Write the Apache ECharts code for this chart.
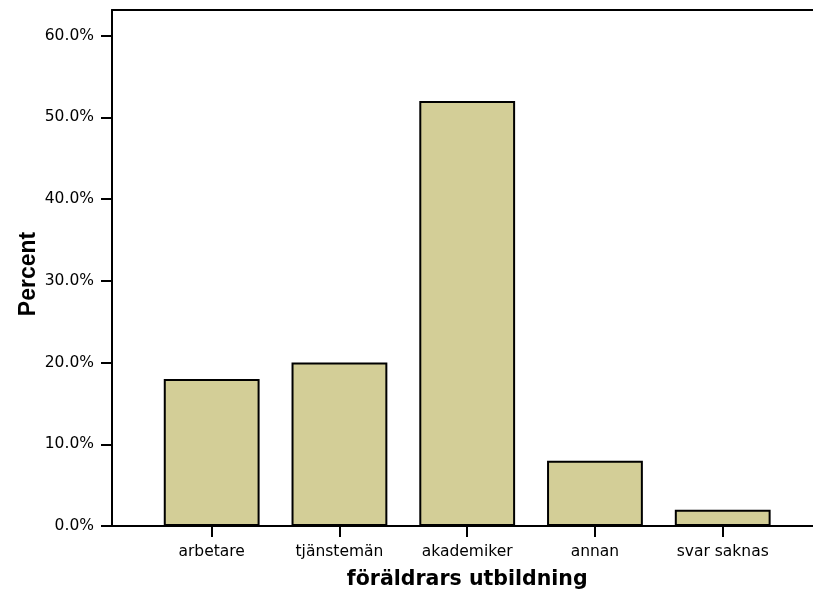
<!DOCTYPE html>
<html>
<head>
<meta charset="utf-8">
<title>föräldrars utbildning</title>
<script src="https://cdn.jsdelivr.net/npm/echarts@6/dist/echarts.min.js"></script>
<style>
  html, body { margin: 0; padding: 0; background: #ffffff; }
  #chart { width: 813px; height: 591px; }
</style>
</head>
<body>
<div id="chart"></div>
<script>
// Parents' education: share of respondents per category (percent)
const categories = ['arbetare', 'tjänstemän', 'akademiker', 'annan', 'svar saknas'];
const percents = [18, 20, 52, 8, 2];
const yTicks = [0, 10, 20, 30, 40, 50, 60];
const yMax = 63.15;

const xTitle = 'föräldrars utbildning';
const yTitle = 'Percent';

const labelFont = 'DejaVu Sans';
const axisBlack = '#000000';

const chart = echarts.init(document.getElementById('chart'), null, { renderer: 'canvas' });

chart.setOption({
  backgroundColor: '#ffffff',
  animation: false,
  grid: [
    // frame: left axis, bottom axis and top rule
    { left: 112, top: 10, right: -4, bottom: 65, containLabel: false, outerBoundsMode: 'none' },
    // bar area: five category bands
    { left: 147.8, top: 10, width: 638.8, bottom: 65, containLabel: false, outerBoundsMode: 'none' }
  ],
  xAxis: [
    {
      gridIndex: 0, type: 'value', min: 0, max: 1, position: 'bottom',
      axisLine: { show: true, onZero: false, lineStyle: { color: axisBlack, width: 2 } },
      axisTick: { show: false }, axisLabel: { show: false }, splitLine: { show: false }
    },
    {
      gridIndex: 0, type: 'value', min: 0, max: 1, position: 'top',
      axisLine: { show: true, onZero: false, lineStyle: { color: axisBlack, width: 2 } },
      axisTick: { show: false }, axisLabel: { show: false }, splitLine: { show: false }
    },
    {
      gridIndex: 1, type: 'category', data: categories, position: 'bottom',
      boundaryGap: true,
      axisLine: { show: false },
      axisTick: { show: true, alignWithLabel: true, length: 11, lineStyle: { color: axisBlack, width: 2 } },
      axisLabel: { show: true, margin: 18, color: '#000', fontFamily: labelFont, fontSize: 15.5 },
      splitLine: { show: false },
      name: xTitle, nameLocation: 'middle', nameGap: 43, nameMoveOverlap: false,
      nameTextStyle: { color: '#000', fontFamily: labelFont, fontWeight: 'bold', fontSize: 20.5 }
    }
  ],
  yAxis: [
    {
      gridIndex: 0, type: 'value', min: 0, max: yMax, interval: 10,
      axisLine: { show: true, onZero: false, lineStyle: { color: axisBlack, width: 2 } },
      axisTick: { show: true, length: 11, customValues: yTicks, lineStyle: { color: axisBlack, width: 2 } },
      axisLabel: {
        show: true, margin: 18, customValues: yTicks,
        color: '#000', fontFamily: labelFont, fontSize: 15.5,
        formatter: v => v.toFixed(1) + '%'
      },
      splitLine: { show: false },
      name: yTitle, nameLocation: 'middle', nameGap: 72, nameMoveOverlap: false,
      nameTextStyle: {
        color: '#000', fontFamily: 'Liberation Sans', fontWeight: 'bold', fontSize: 23,
        padding: [0, 12, 0, 0]
      }
    },
    {
      gridIndex: 1, type: 'value', min: 0, max: yMax, show: false,
      splitLine: { show: false }
    }
  ],
  series: [
    {
      type: 'bar',
      xAxisIndex: 2,
      yAxisIndex: 1,
      data: percents,
      barWidth: '75%',
      itemStyle: { color: '#D3CE97', borderColor: '#000', borderWidth: 2 }
    }
  ]
});
</script>
</body>
</html>
